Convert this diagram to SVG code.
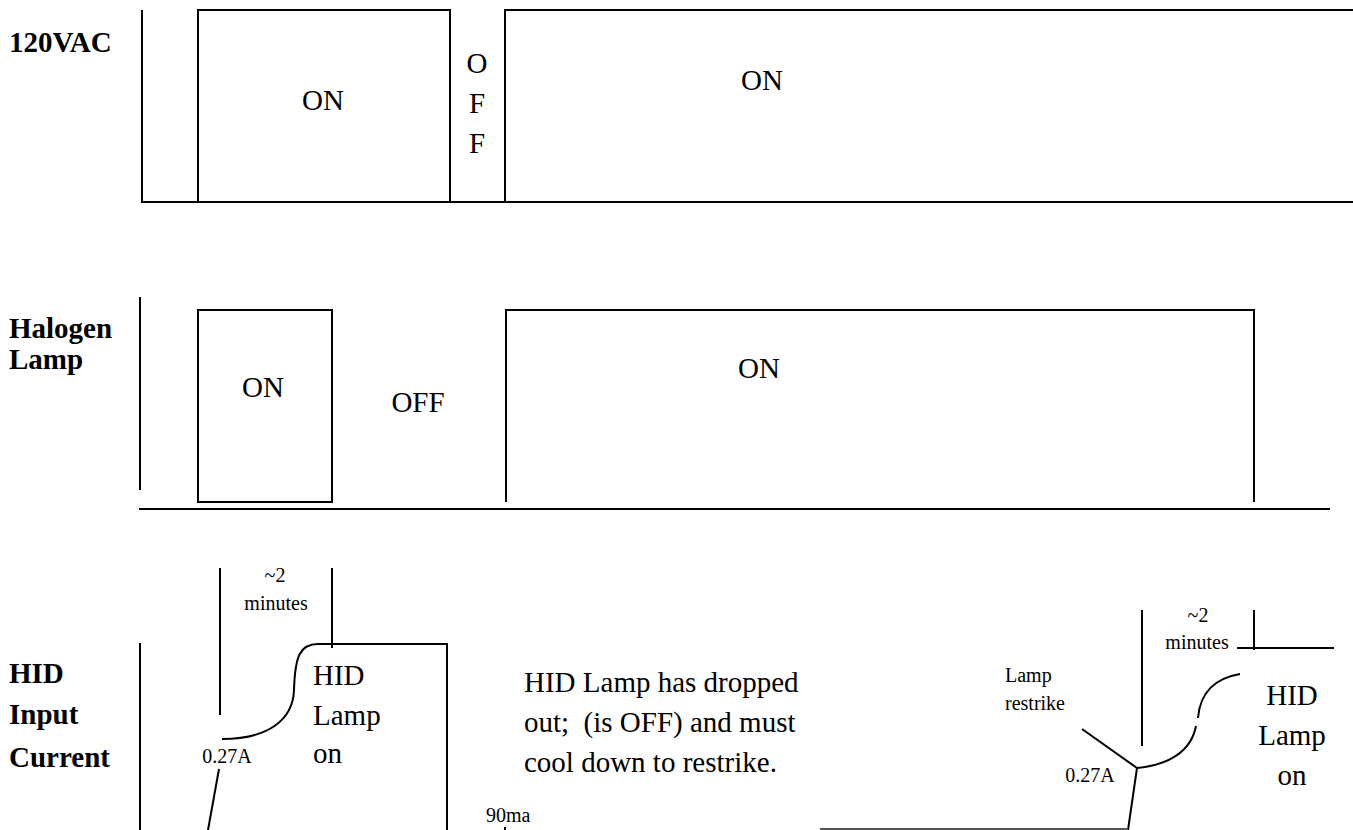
<svg xmlns="http://www.w3.org/2000/svg" width="1353" height="830" viewBox="0 0 1353 830">
<style>
.ln{fill:none;stroke:#000;stroke-width:2}
.gl{fill:none;stroke:#555;stroke-width:2}
text{font-family:'Liberation Serif','DejaVu Serif',serif;fill:#000;white-space:pre}
.t{font-size:29px}
.s{font-size:20px}
.b{font-size:29px;font-weight:bold}
.m{text-anchor:middle}
</style>
<rect width="1353" height="830" fill="#fff"/>
<g id="row-120vac" font-family="Liberation Serif, DejaVu Serif, serif">
<text class="b" x="9" y="52">120VAC</text>
<text class="t m" x="323" y="110">ON</text>
<text class="t m" x="477" y="73">O</text>
<text class="t m" x="477" y="113">F</text>
<text class="t m" x="477" y="153">F</text>
<text class="t m" x="762" y="90">ON</text>
</g>
<g id="row-halogen" font-family="Liberation Serif, DejaVu Serif, serif">
<text class="b" x="9" y="338">Halogen</text>
<text class="b" x="9" y="369">Lamp</text>
<text class="t m" x="263" y="397">ON</text>
<text class="t m" x="418" y="412">OFF</text>
<text class="t m" x="759" y="378">ON</text>
</g>
<g id="row-hid" font-family="Liberation Serif, DejaVu Serif, serif">
<text class="b" x="9" y="683">HID</text>
<text class="b" x="9" y="724">Input</text>
<text class="b" x="9" y="767">Current</text>
<text class="s m" x="275" y="582">~2</text>
<text class="s m" x="276" y="610">minutes</text>
<text class="s m" x="227" y="763">0.27A</text>
<text class="t" x="313" y="685">HID</text>
<text class="t" x="313" y="725">Lamp</text>
<text class="t" x="313" y="763">on</text>
<text class="t" x="524" y="692">HID Lamp has dropped</text>
<text class="t" x="524" y="732" xml:space="preserve">out;  (is OFF) and must</text>
<text class="t" x="524" y="772">cool down to restrike.</text>
<text class="s" x="486" y="822">90ma</text>
<text class="s" x="1005" y="682">Lamp</text>
<text class="s" x="1005" y="710">restrike</text>
<text class="s m" x="1198" y="622">~2</text>
<text class="s m" x="1197" y="649">minutes</text>
<text class="s m" x="1090" y="782">0.27A</text>
<text class="t m" x="1292" y="705">HID</text>
<text class="t m" x="1292" y="745">Lamp</text>
<text class="t m" x="1292" y="785">on</text>
</g>
<g id="connectors">
<path class="ln" d="M142,10 V202 H1353"/>
<path class="ln" d="M198,202 V10 H450 V202"/>
<path class="ln" d="M505,202 V10 H1353"/>
<path class="ln" d="M140,297 V490"/>
<path class="ln" d="M139,509 H1330"/>
<path class="ln" d="M198,310 H332 V502 H198 Z"/>
<path class="ln" d="M506,502 V310 H1254 V502"/>
<path class="ln" d="M140,643 V830"/>
<path class="ln" d="M220,568 V715"/>
<path class="ln" d="M332,568 V648"/>
<path class="ln" d="M222,739 C268,739 293,720 294,690 C295,656 300,644 318,644 H447 V830"/>
<path class="ln" d="M219,769 L208,830"/>
<path class="ln" d="M505,827 V830"/>
<path class="ln" d="M1142,610 V746"/>
<path class="ln" d="M1254,610 V650"/>
<path class="ln" d="M1237,648 H1334"/>
<path class="ln" d="M1082,729 L1137,768"/>
<path class="ln" d="M1137,768 C1168,765 1191,752 1196,726"/>
<path class="ln" d="M1198,718 C1200,692 1216,678 1240,674"/>
<path class="ln" d="M1137,768 L1128,830"/>
<path class="gl" d="M820,829 H1128"/>
</g>
</svg>
